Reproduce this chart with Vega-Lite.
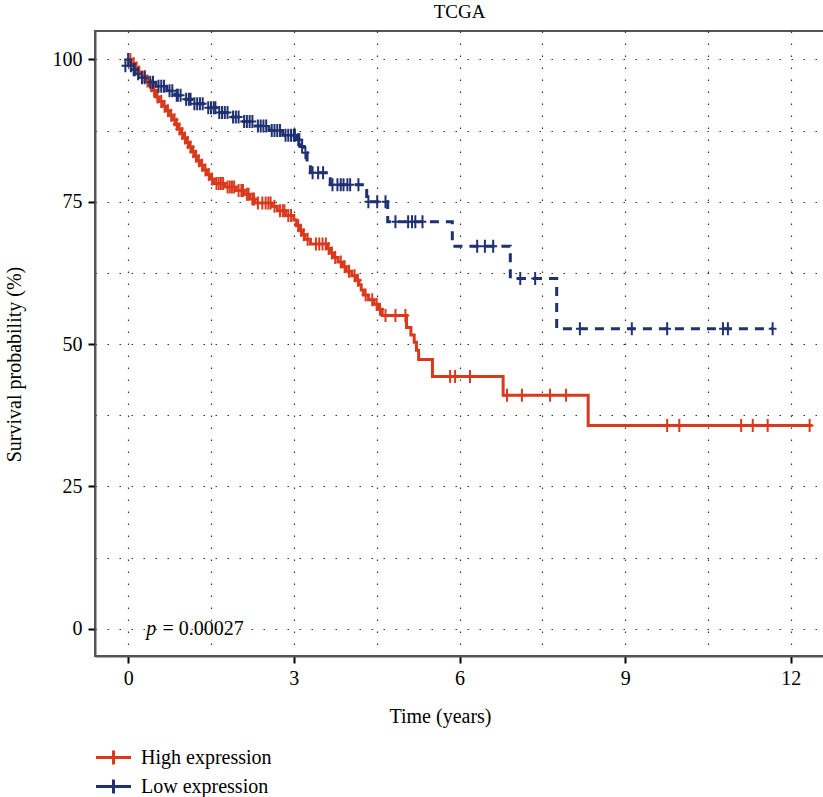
{
  "$schema": "https://vega.github.io/schema/vega-lite/v6.json",
  "autosize": "none",
  "width": 729,
  "height": 625,
  "padding": {"left": 95, "top": 31, "right": 0, "bottom": 141},
  "title": {"text": "TCGA", "fontSize": 19, "fontWeight": "normal", "font": "Liberation Serif", "color": "black", "anchor": "middle", "offset": 9},
  "config": {
    "font": "Liberation Serif",
    "view": {"stroke": "#555", "strokeWidth": 2},
    "axis": {
      "labelFont": "Liberation Serif", "labelFontSize": 20, "labelColor": "black",
      "titleFont": "Liberation Serif", "titleFontSize": 20, "titleFontWeight": "normal", "titleColor": "black",
      "domainColor": "#555", "domainWidth": 2,
      "tickColor": "black", "tickWidth": 2, "tickSize": 7,
      "grid": true, "gridColor": "#333", "gridDash": [1.5, 10.5], "gridWidth": 1.2
    }
  },
  "datasets": {
    "curves": [
      {"t": 0, "s": 100, "group": "High expression"},
      {"t": 0.05, "s": 99.3, "group": "High expression"},
      {"t": 0.12, "s": 98.5, "group": "High expression"},
      {"t": 0.18, "s": 97.8, "group": "High expression"},
      {"t": 0.25, "s": 97.0, "group": "High expression"},
      {"t": 0.32, "s": 96.2, "group": "High expression"},
      {"t": 0.38, "s": 95.4, "group": "High expression"},
      {"t": 0.44, "s": 94.6, "group": "High expression"},
      {"t": 0.50, "s": 93.4, "group": "High expression"},
      {"t": 0.56, "s": 92.6, "group": "High expression"},
      {"t": 0.62, "s": 91.8, "group": "High expression"},
      {"t": 0.68, "s": 91.0, "group": "High expression"},
      {"t": 0.74, "s": 90.2, "group": "High expression"},
      {"t": 0.80, "s": 89.4, "group": "High expression"},
      {"t": 0.86, "s": 88.6, "group": "High expression"},
      {"t": 0.90, "s": 87.8, "group": "High expression"},
      {"t": 0.95, "s": 87.0, "group": "High expression"},
      {"t": 1.00, "s": 86.2, "group": "High expression"},
      {"t": 1.05, "s": 85.4, "group": "High expression"},
      {"t": 1.10, "s": 84.6, "group": "High expression"},
      {"t": 1.15, "s": 83.8, "group": "High expression"},
      {"t": 1.20, "s": 83.0, "group": "High expression"},
      {"t": 1.25, "s": 82.2, "group": "High expression"},
      {"t": 1.30, "s": 81.4, "group": "High expression"},
      {"t": 1.36, "s": 80.6, "group": "High expression"},
      {"t": 1.42, "s": 79.8, "group": "High expression"},
      {"t": 1.48, "s": 79.0, "group": "High expression"},
      {"t": 1.56, "s": 78.2, "group": "High expression"},
      {"t": 1.75, "s": 77.6, "group": "High expression"},
      {"t": 1.95, "s": 77.0, "group": "High expression"},
      {"t": 2.10, "s": 76.3, "group": "High expression"},
      {"t": 2.20, "s": 75.5, "group": "High expression"},
      {"t": 2.30, "s": 74.8, "group": "High expression"},
      {"t": 2.60, "s": 74.2, "group": "High expression"},
      {"t": 2.70, "s": 73.4, "group": "High expression"},
      {"t": 2.85, "s": 72.6, "group": "High expression"},
      {"t": 3.00, "s": 71.8, "group": "High expression"},
      {"t": 3.05, "s": 70.8, "group": "High expression"},
      {"t": 3.10, "s": 70.0, "group": "High expression"},
      {"t": 3.15, "s": 69.2, "group": "High expression"},
      {"t": 3.20, "s": 68.4, "group": "High expression"},
      {"t": 3.30, "s": 67.6, "group": "High expression"},
      {"t": 3.60, "s": 66.8, "group": "High expression"},
      {"t": 3.65, "s": 66.0, "group": "High expression"},
      {"t": 3.72, "s": 65.2, "group": "High expression"},
      {"t": 3.80, "s": 64.4, "group": "High expression"},
      {"t": 3.88, "s": 63.6, "group": "High expression"},
      {"t": 3.95, "s": 62.8, "group": "High expression"},
      {"t": 4.05, "s": 62.0, "group": "High expression"},
      {"t": 4.12, "s": 61.2, "group": "High expression"},
      {"t": 4.18, "s": 60.4, "group": "High expression"},
      {"t": 4.22, "s": 59.5, "group": "High expression"},
      {"t": 4.26, "s": 58.6, "group": "High expression"},
      {"t": 4.35, "s": 57.8, "group": "High expression"},
      {"t": 4.45, "s": 57.0, "group": "High expression"},
      {"t": 4.52, "s": 56.1, "group": "High expression"},
      {"t": 4.60, "s": 55.0, "group": "High expression"},
      {"t": 5.04, "s": 52.9, "group": "High expression"},
      {"t": 5.12, "s": 51.6, "group": "High expression"},
      {"t": 5.18, "s": 50.3, "group": "High expression"},
      {"t": 5.22, "s": 48.9, "group": "High expression"},
      {"t": 5.26, "s": 47.3, "group": "High expression"},
      {"t": 5.51, "s": 44.3, "group": "High expression"},
      {"t": 6.79, "s": 41.0, "group": "High expression"},
      {"t": 8.33, "s": 35.7, "group": "High expression"},
      {"t": 12.38, "s": 35.7, "group": "High expression"},
      {"t": 0, "s": 100, "group": "Low expression"},
      {"t": 0.02, "s": 98.9, "group": "Low expression"},
      {"t": 0.08, "s": 98.2, "group": "Low expression"},
      {"t": 0.15, "s": 97.5, "group": "Low expression"},
      {"t": 0.22, "s": 96.8, "group": "Low expression"},
      {"t": 0.35, "s": 96.0, "group": "Low expression"},
      {"t": 0.50, "s": 95.3, "group": "Low expression"},
      {"t": 0.70, "s": 94.5, "group": "Low expression"},
      {"t": 0.85, "s": 93.7, "group": "Low expression"},
      {"t": 1.00, "s": 93.0, "group": "Low expression"},
      {"t": 1.15, "s": 92.2, "group": "Low expression"},
      {"t": 1.40, "s": 91.5, "group": "Low expression"},
      {"t": 1.60, "s": 90.7, "group": "Low expression"},
      {"t": 1.85, "s": 89.9, "group": "Low expression"},
      {"t": 2.05, "s": 89.1, "group": "Low expression"},
      {"t": 2.30, "s": 88.3, "group": "Low expression"},
      {"t": 2.55, "s": 87.5, "group": "Low expression"},
      {"t": 2.80, "s": 86.7, "group": "Low expression"},
      {"t": 3.05, "s": 85.9, "group": "Low expression"},
      {"t": 3.12, "s": 84.7, "group": "Low expression"},
      {"t": 3.18, "s": 83.6, "group": "Low expression"},
      {"t": 3.24, "s": 81.9, "group": "Low expression"},
      {"t": 3.30, "s": 80.1, "group": "Low expression"},
      {"t": 3.66, "s": 78.0, "group": "Low expression"},
      {"t": 4.32, "s": 75.0, "group": "Low expression"},
      {"t": 4.70, "s": 71.5, "group": "Low expression"},
      {"t": 5.87, "s": 67.2, "group": "Low expression"},
      {"t": 6.92, "s": 61.5, "group": "Low expression"},
      {"t": 7.76, "s": 52.7, "group": "Low expression"},
      {"t": 11.67, "s": 52.7, "group": "Low expression"}
    ],
    "censors": [
      {"t": 0.04, "s": 100, "group": "High expression"},
      {"t": 0.1, "s": 99.3, "group": "High expression"},
      {"t": 0.15, "s": 98.5, "group": "High expression"},
      {"t": 0.2, "s": 97.8, "group": "High expression"},
      {"t": 0.3, "s": 97.0, "group": "High expression"},
      {"t": 0.35, "s": 96.2, "group": "High expression"},
      {"t": 0.42, "s": 95.4, "group": "High expression"},
      {"t": 0.47, "s": 94.6, "group": "High expression"},
      {"t": 0.53, "s": 93.4, "group": "High expression"},
      {"t": 0.6, "s": 92.6, "group": "High expression"},
      {"t": 0.66, "s": 91.8, "group": "High expression"},
      {"t": 0.72, "s": 91.0, "group": "High expression"},
      {"t": 0.78, "s": 90.2, "group": "High expression"},
      {"t": 0.84, "s": 89.4, "group": "High expression"},
      {"t": 0.88, "s": 88.6, "group": "High expression"},
      {"t": 0.93, "s": 87.8, "group": "High expression"},
      {"t": 0.98, "s": 87.0, "group": "High expression"},
      {"t": 1.03, "s": 86.2, "group": "High expression"},
      {"t": 1.08, "s": 85.4, "group": "High expression"},
      {"t": 1.13, "s": 84.6, "group": "High expression"},
      {"t": 1.18, "s": 83.8, "group": "High expression"},
      {"t": 1.23, "s": 83.0, "group": "High expression"},
      {"t": 1.28, "s": 82.2, "group": "High expression"},
      {"t": 1.34, "s": 81.4, "group": "High expression"},
      {"t": 1.4, "s": 80.6, "group": "High expression"},
      {"t": 1.46, "s": 79.8, "group": "High expression"},
      {"t": 1.52, "s": 79.0, "group": "High expression"},
      {"t": 1.6, "s": 78.2, "group": "High expression"},
      {"t": 1.64, "s": 78.2, "group": "High expression"},
      {"t": 1.68, "s": 78.2, "group": "High expression"},
      {"t": 1.72, "s": 78.2, "group": "High expression"},
      {"t": 1.8, "s": 77.6, "group": "High expression"},
      {"t": 1.84, "s": 77.6, "group": "High expression"},
      {"t": 1.88, "s": 77.6, "group": "High expression"},
      {"t": 1.92, "s": 77.6, "group": "High expression"},
      {"t": 2.0, "s": 77.0, "group": "High expression"},
      {"t": 2.05, "s": 77.0, "group": "High expression"},
      {"t": 2.08, "s": 77.0, "group": "High expression"},
      {"t": 2.15, "s": 76.3, "group": "High expression"},
      {"t": 2.18, "s": 76.3, "group": "High expression"},
      {"t": 2.25, "s": 75.5, "group": "High expression"},
      {"t": 2.28, "s": 75.5, "group": "High expression"},
      {"t": 2.35, "s": 74.8, "group": "High expression"},
      {"t": 2.43, "s": 74.8, "group": "High expression"},
      {"t": 2.49, "s": 74.8, "group": "High expression"},
      {"t": 2.54, "s": 74.8, "group": "High expression"},
      {"t": 2.58, "s": 74.8, "group": "High expression"},
      {"t": 2.65, "s": 74.2, "group": "High expression"},
      {"t": 2.75, "s": 73.4, "group": "High expression"},
      {"t": 2.8, "s": 73.4, "group": "High expression"},
      {"t": 2.83, "s": 73.4, "group": "High expression"},
      {"t": 2.9, "s": 72.6, "group": "High expression"},
      {"t": 2.95, "s": 72.6, "group": "High expression"},
      {"t": 3.08, "s": 70.8, "group": "High expression"},
      {"t": 3.13, "s": 70.0, "group": "High expression"},
      {"t": 3.18, "s": 69.2, "group": "High expression"},
      {"t": 3.25, "s": 68.4, "group": "High expression"},
      {"t": 3.4, "s": 67.6, "group": "High expression"},
      {"t": 3.46, "s": 67.6, "group": "High expression"},
      {"t": 3.52, "s": 67.6, "group": "High expression"},
      {"t": 3.58, "s": 67.6, "group": "High expression"},
      {"t": 3.63, "s": 66.8, "group": "High expression"},
      {"t": 3.69, "s": 66.0, "group": "High expression"},
      {"t": 3.75, "s": 65.2, "group": "High expression"},
      {"t": 3.85, "s": 64.4, "group": "High expression"},
      {"t": 3.92, "s": 63.6, "group": "High expression"},
      {"t": 4.0, "s": 62.8, "group": "High expression"},
      {"t": 4.1, "s": 62.0, "group": "High expression"},
      {"t": 4.16, "s": 61.2, "group": "High expression"},
      {"t": 4.3, "s": 58.6, "group": "High expression"},
      {"t": 4.42, "s": 57.8, "group": "High expression"},
      {"t": 4.5, "s": 57.0, "group": "High expression"},
      {"t": 4.56, "s": 56.1, "group": "High expression"},
      {"t": 4.66, "s": 55.0, "group": "High expression"},
      {"t": 4.84, "s": 55.0, "group": "High expression"},
      {"t": 5.02, "s": 55.0, "group": "High expression"},
      {"t": 5.83, "s": 44.3, "group": "High expression"},
      {"t": 5.92, "s": 44.3, "group": "High expression"},
      {"t": 6.19, "s": 44.3, "group": "High expression"},
      {"t": 6.86, "s": 41.0, "group": "High expression"},
      {"t": 7.13, "s": 41.0, "group": "High expression"},
      {"t": 7.64, "s": 41.0, "group": "High expression"},
      {"t": 7.93, "s": 41.0, "group": "High expression"},
      {"t": 9.76, "s": 35.7, "group": "High expression"},
      {"t": 9.98, "s": 35.7, "group": "High expression"},
      {"t": 11.1, "s": 35.7, "group": "High expression"},
      {"t": 11.31, "s": 35.7, "group": "High expression"},
      {"t": 11.58, "s": 35.7, "group": "High expression"},
      {"t": 12.34, "s": 35.7, "group": "High expression"},
      {"t": -0.05, "s": 98.9, "group": "Low expression"},
      {"t": 0.0, "s": 100, "group": "Low expression"},
      {"t": 0.05, "s": 98.9, "group": "Low expression"},
      {"t": 0.1, "s": 98.2, "group": "Low expression"},
      {"t": 0.12, "s": 98.2, "group": "Low expression"},
      {"t": 0.18, "s": 97.5, "group": "Low expression"},
      {"t": 0.25, "s": 96.8, "group": "Low expression"},
      {"t": 0.3, "s": 96.8, "group": "Low expression"},
      {"t": 0.4, "s": 96.0, "group": "Low expression"},
      {"t": 0.45, "s": 96.0, "group": "Low expression"},
      {"t": 0.55, "s": 95.3, "group": "Low expression"},
      {"t": 0.6, "s": 95.3, "group": "Low expression"},
      {"t": 0.65, "s": 95.3, "group": "Low expression"},
      {"t": 0.75, "s": 94.5, "group": "Low expression"},
      {"t": 0.8, "s": 94.5, "group": "Low expression"},
      {"t": 0.88, "s": 93.7, "group": "Low expression"},
      {"t": 0.9, "s": 93.7, "group": "Low expression"},
      {"t": 0.95, "s": 93.7, "group": "Low expression"},
      {"t": 1.05, "s": 93.0, "group": "Low expression"},
      {"t": 1.1, "s": 93.0, "group": "Low expression"},
      {"t": 1.13, "s": 93.0, "group": "Low expression"},
      {"t": 1.2, "s": 92.2, "group": "Low expression"},
      {"t": 1.25, "s": 92.2, "group": "Low expression"},
      {"t": 1.3, "s": 92.2, "group": "Low expression"},
      {"t": 1.35, "s": 92.2, "group": "Low expression"},
      {"t": 1.45, "s": 91.5, "group": "Low expression"},
      {"t": 1.5, "s": 91.5, "group": "Low expression"},
      {"t": 1.55, "s": 91.5, "group": "Low expression"},
      {"t": 1.58, "s": 91.5, "group": "Low expression"},
      {"t": 1.65, "s": 90.7, "group": "Low expression"},
      {"t": 1.7, "s": 90.7, "group": "Low expression"},
      {"t": 1.75, "s": 90.7, "group": "Low expression"},
      {"t": 1.8, "s": 90.7, "group": "Low expression"},
      {"t": 1.9, "s": 89.9, "group": "Low expression"},
      {"t": 1.95, "s": 89.9, "group": "Low expression"},
      {"t": 2.0, "s": 89.9, "group": "Low expression"},
      {"t": 2.1, "s": 89.1, "group": "Low expression"},
      {"t": 2.15, "s": 89.1, "group": "Low expression"},
      {"t": 2.2, "s": 89.1, "group": "Low expression"},
      {"t": 2.25, "s": 89.1, "group": "Low expression"},
      {"t": 2.35, "s": 88.3, "group": "Low expression"},
      {"t": 2.4, "s": 88.3, "group": "Low expression"},
      {"t": 2.45, "s": 88.3, "group": "Low expression"},
      {"t": 2.5, "s": 88.3, "group": "Low expression"},
      {"t": 2.6, "s": 87.5, "group": "Low expression"},
      {"t": 2.65, "s": 87.5, "group": "Low expression"},
      {"t": 2.7, "s": 87.5, "group": "Low expression"},
      {"t": 2.75, "s": 87.5, "group": "Low expression"},
      {"t": 2.85, "s": 86.7, "group": "Low expression"},
      {"t": 2.9, "s": 86.7, "group": "Low expression"},
      {"t": 2.95, "s": 86.7, "group": "Low expression"},
      {"t": 3.0, "s": 86.7, "group": "Low expression"},
      {"t": 3.02, "s": 86.7, "group": "Low expression"},
      {"t": 3.08, "s": 85.9, "group": "Low expression"},
      {"t": 3.1, "s": 85.9, "group": "Low expression"},
      {"t": 3.15, "s": 84.7, "group": "Low expression"},
      {"t": 3.21, "s": 83.6, "group": "Low expression"},
      {"t": 3.34, "s": 80.1, "group": "Low expression"},
      {"t": 3.44, "s": 80.1, "group": "Low expression"},
      {"t": 3.53, "s": 80.1, "group": "Low expression"},
      {"t": 3.7, "s": 78.0, "group": "Low expression"},
      {"t": 3.79, "s": 78.0, "group": "Low expression"},
      {"t": 3.85, "s": 78.0, "group": "Low expression"},
      {"t": 3.9, "s": 78.0, "group": "Low expression"},
      {"t": 3.97, "s": 78.0, "group": "Low expression"},
      {"t": 4.02, "s": 78.0, "group": "Low expression"},
      {"t": 4.17, "s": 78.0, "group": "Low expression"},
      {"t": 4.35, "s": 75.0, "group": "Low expression"},
      {"t": 4.51, "s": 75.0, "group": "Low expression"},
      {"t": 4.66, "s": 75.0, "group": "Low expression"},
      {"t": 4.84, "s": 71.5, "group": "Low expression"},
      {"t": 5.07, "s": 71.5, "group": "Low expression"},
      {"t": 5.14, "s": 71.5, "group": "Low expression"},
      {"t": 5.2, "s": 71.5, "group": "Low expression"},
      {"t": 5.33, "s": 71.5, "group": "Low expression"},
      {"t": 6.32, "s": 67.2, "group": "Low expression"},
      {"t": 6.46, "s": 67.2, "group": "Low expression"},
      {"t": 6.61, "s": 67.2, "group": "Low expression"},
      {"t": 7.1, "s": 61.5, "group": "Low expression"},
      {"t": 7.37, "s": 61.5, "group": "Low expression"},
      {"t": 8.18, "s": 52.7, "group": "Low expression"},
      {"t": 9.12, "s": 52.7, "group": "Low expression"},
      {"t": 9.76, "s": 52.7, "group": "Low expression"},
      {"t": 10.77, "s": 52.7, "group": "Low expression"},
      {"t": 10.86, "s": 52.7, "group": "Low expression"},
      {"t": 11.67, "s": 52.7, "group": "Low expression"}
    ],
    "annot": [
      {"t": 0.33, "s": 0, "label": "p", "kind": "italic"},
      {"t": 0.62, "s": 0, "label": "= 0.00027", "kind": "normal"}
    ]
  },
  "encoding": {
    "x": {
      "field": "t", "type": "quantitative",
      "scale": {"domain": [-0.6, 12.6], "nice": false, "zero": false},
      "axis": {
        "values": [0, 1.5, 3, 4.5, 6, 7.5, 9, 10.5, 12],
        "labelExpr": "datum.value % 3 === 0 ? format(datum.value, 'd') : ''",
        "tickOpacity": {"condition": {"test": "datum.value % 3 !== 0", "value": 0}, "value": 1},
        "labelPadding": 5,
        "title": "Time (years)", "titlePadding": 18, "titleX": 345
      }
    },
    "y": {
      "field": "s", "type": "quantitative",
      "scale": {"domain": [-4.8, 105], "nice": false, "zero": false},
      "axis": {
        "values": [0, 12.5, 25, 37.5, 50, 62.5, 75, 87.5, 100],
        "labelExpr": "datum.value % 25 === 0 ? format(datum.value, 'd') : ''",
        "tickOpacity": {"condition": {"test": "datum.value % 25 !== 0", "value": 0}, "value": 1},
        "labelPadding": 6,
        "title": "Survival probability (%)", "titlePadding": 28, "titleY": 333
      }
    }
  },
  "layer": [
    {
      "data": {"name": "curves"},
      "transform": [{"filter": "datum.group === 'High expression'"}],
      "mark": {"type": "line", "interpolate": "step-after", "strokeWidth": 3, "clip": true},
      "encoding": {
        "color": {
          "field": "group", "type": "nominal",
          "scale": {"domain": ["High expression", "Low expression"], "range": ["#d9391c", "#1f3170"]},
          "legend": {
            "orient": "none", "legendX": 3, "legendY": 711, "title": null,
            "symbolType": "M-1.25,0L1.25,0M0,-0.5L0,0.5", "symbolSize": 784, "symbolStrokeWidth": 3,
            "labelFont": "Liberation Serif", "labelFontSize": 20, "labelColor": "black", "labelOffset": 12,
            "rowPadding": 0, "padding": 0
          }
        }
      }
    },
    {
      "data": {"name": "curves"},
      "transform": [{"filter": "datum.group === 'Low expression'"}],
      "mark": {"type": "line", "interpolate": "step-after", "strokeWidth": 3, "strokeDash": [9, 7], "clip": true},
      "encoding": {
        "color": {"field": "group", "type": "nominal"}
      }
    },
    {
      "data": {"name": "censors"},
      "mark": {"type": "point", "shape": "M-0.6,0L0.6,0M0,-1L0,1", "size": 169, "strokeWidth": 2, "filled": false, "opacity": 1, "clip": true},
      "encoding": {
        "color": {"field": "group", "type": "nominal"}
      }
    },
    {
      "data": {"name": "annot"},
      "transform": [{"filter": "datum.kind === 'italic'"}],
      "mark": {"type": "text", "align": "left", "baseline": "middle", "fontSize": 20, "fontStyle": "italic", "font": "Liberation Serif", "color": "black"},
      "encoding": {
        "text": {"field": "label"}
      }
    },
    {
      "data": {"name": "annot"},
      "transform": [{"filter": "datum.kind === 'normal'"}],
      "mark": {"type": "text", "align": "left", "baseline": "middle", "fontSize": 20, "font": "Liberation Serif", "color": "black"},
      "encoding": {
        "text": {"field": "label"}
      }
    }
  ]
}
